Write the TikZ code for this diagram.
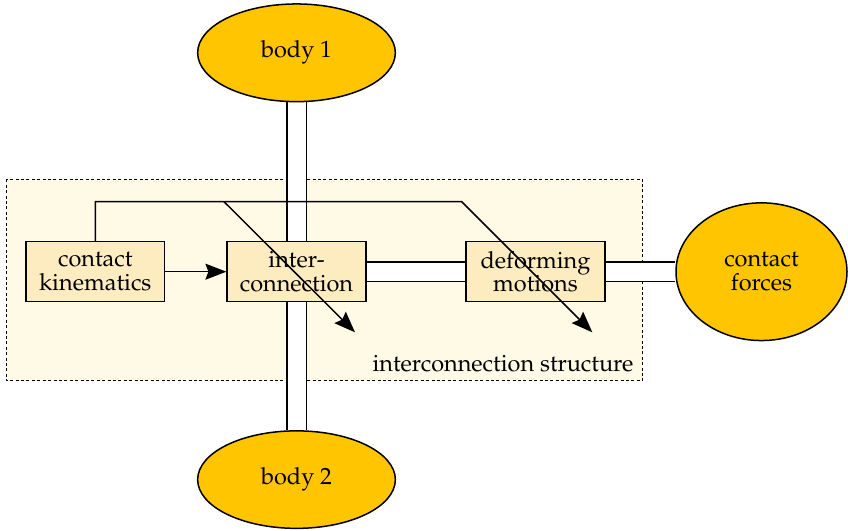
\documentclass[tikz,border=0pt]{standalone}
\usepackage[T1]{fontenc}
\usepackage{mathpazo}
\usetikzlibrary{arrows.meta,shapes.geometric,backgrounds}

\definecolor{structfill}{HTML}{FFFAE6}
\definecolor{boxfill}{HTML}{FDECBF}
\definecolor{bodyfill}{HTML}{FFC500}

\tikzset{
  thick line/.style={line width=1.5pt},
  txt/.style={font=\fontsize{23.5}{23.5}\selectfont, align=center, inner sep=0pt},
  blockbox/.style={txt, thick line, draw=black, fill=boxfill, rectangle,
    minimum width=138.7pt, minimum height=60pt},
  bodyshape/.style={txt, thick line, draw=black, fill=bodyfill, ellipse},
  bond/.style={thick line, draw=black, double=white, double distance=18pt},
  sigarrow/.style={thick line, -{Stealth[length=21pt,width=16pt,inset=3pt]}},
  structbox/.style={thick line, draw=black, fill=structfill, dash pattern=on 3pt off 2.4pt}
}

\begin{document}
\begin{tikzpicture}[x=1pt,y=-1pt]
  \useasboundingbox (0,0) rectangle (848,530);

  % bodies and interface ellipse
  \node[bodyshape, minimum width=197.7pt, minimum height=97.7pt] (b1) at (296.5,52.8) {body 1};
  \node[bodyshape, minimum width=197.7pt, minimum height=97.5pt] (b2) at (296.5,479.6) {body 2};
  \node[bodyshape, minimum width=171pt, minimum height=137.7pt] (cf) at (761.5,271.7) {contact\\forces};

  % blocks of the interconnection structure
  \node[blockbox] (kin) at (95.3,271.7) {contact\\kinematics};
  \node[blockbox] (inter) at (296.5,271.7) {inter-\\connection};
  \node[blockbox] (deform) at (535.5,271.7) {deforming\\motions};

  \begin{pgfonlayer}{background}
    % dotted frame of the structure
    \draw[structbox] (6.5,179.3) rectangle (642.7,380.7);
    % power bonds
    \draw[bond] (b1.south) -- (b2.north);
    \draw[bond] (inter.east) -- (deform.west);
    \draw[bond] (deform.east) -- (cf.west);
  \end{pgfonlayer}

  \node[txt, anchor=base east] (lbl) at (633.5,371.7) {interconnection structure};

  % signal connections
  \coordinate (bend) at (461.7,201.7);
  \coordinate (split) at (224,201.7);
  \coordinate (tipA) at (355,332.3);
  \coordinate (tipB) at (592.3,332.3);

  \draw[sigarrow] (kin.east) -- (inter.west);
  \draw[sigarrow] (kin.north) |- (bend) -- (tipB);
  \draw[sigarrow] (split) -- (tipA);
\end{tikzpicture}
\end{document}
